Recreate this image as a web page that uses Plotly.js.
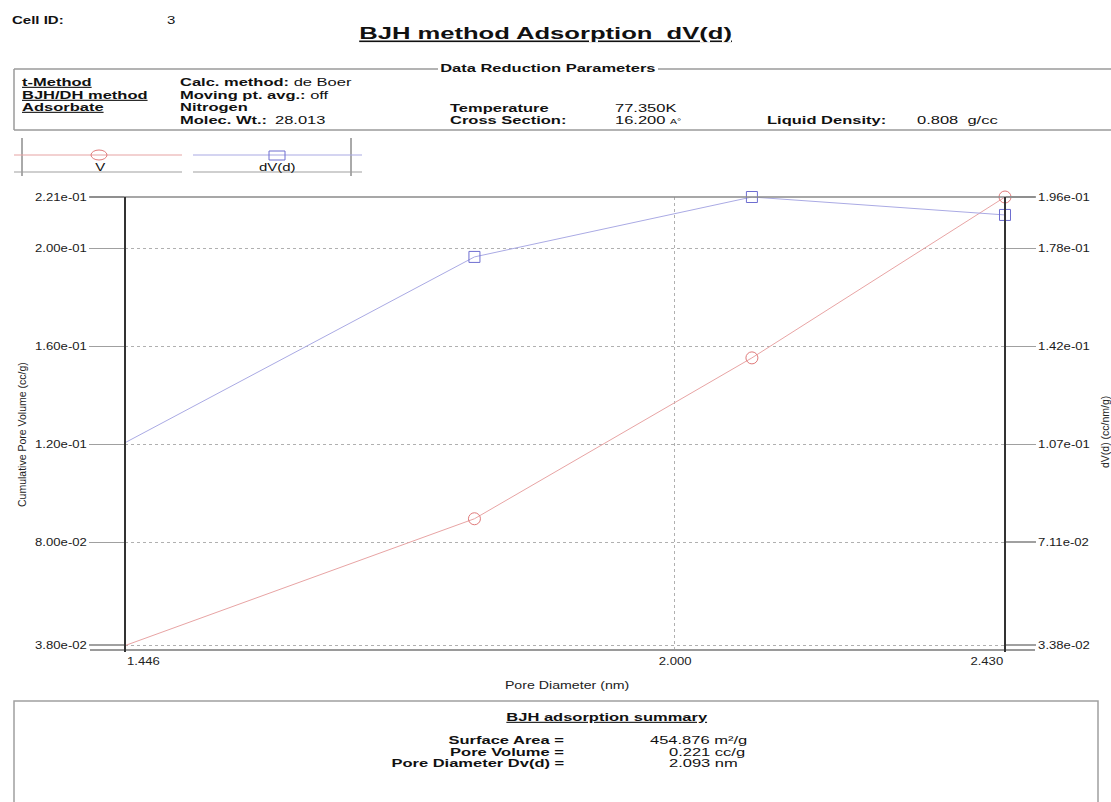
<!DOCTYPE html>
<html>
<head>
<meta charset="utf-8">
<script src="https://cdn.plot.ly/plotly-3.0.1.min.js"></script>
<style>
  html, body { margin: 0; padding: 0; background: #ffffff; }
  #chart { width: 1111px; height: 802px; }
</style>
</head>
<body>
<div id="chart"></div>
<script>
// ---------------- data ----------------
const poreDiameter = [1.446, 1.777, 2.093, 2.430];          // nm
const cumulativeVolume = [0.0378, 0.0896, 0.1553, 0.221];    // V (cc/g), left axis
const dVd = [0.107, 0.1743, 0.196, 0.1895];                  // dV(d) (cc/nm/g), right axis

const xTickVals = [1.446, 2.000, 2.430];
const xTickText = ['1.446', '2.000', '2.430'];
const yLeftTickVals = [0.038, 0.08, 0.12, 0.16, 0.20, 0.221];
const yLeftTickText = ['3.80e-02', '8.00e-02', '1.20e-01', '1.60e-01', '2.00e-01', '2.21e-01'];
const yRightTickVals = [0.0337, 0.0710, 0.1064, 0.1419, 0.1774, 0.196];
const yRightTickText = ['3.38e-02', '7.11e-02', '1.07e-01', '1.42e-01', '1.78e-01', '1.96e-01'];

const summaryLabels = ['Surface Area =', 'Pore Volume =', 'Pore Diameter Dv(d) ='];
const summaryValues = ['454.876 m\u00b2/g', '0.221 cc/g', '2.093 nm'];

// ---------------- geometry helpers ----------------
const W = 1111, H = 802;
const L = 125, R = 106, T = 197, B = 152;
const PW = W - L - R, PH = H - T - B;
const px = x => (x - L) / PW;
const py = y => (H - B - y) / PH;

const FONT = 'Liberation Sans, Arial, sans-serif';
const NARROW = 'Liberation Sans Narrow, Liberation Sans, Arial, sans-serif';
const ann = [];
const stretch = [];   // horizontal stretch factor per annotation (the source image is widened)
function txt(x, y, text, opts, s) {
  opts = opts || {};
  ann.push(Object.assign({
    xref: 'paper', yref: 'paper', x: px(x), y: py(y), text: text,
    showarrow: false, xanchor: 'left', yanchor: 'middle',
    font: {family: FONT, size: 11, color: '#111'}
  }, opts));
  stretch.push(s === undefined ? 1.5 : s);
}

// header
txt(10, 20, '<b>Cell ID:</b>', {font: {family: FONT, size: 10, color: '#111'}});
txt(165, 20, '3', {font: {family: FONT, size: 10, color: '#111'}});
txt(545, 34, '<b><u>BJH method Adsorption\u00a0\u00a0dV(d)</u></b>', {xanchor: 'center', font: {family: FONT, size: 16, color: '#111'}}, 1.6);

// data reduction parameters box
txt(548, 68, '<b>Data Reduction Parameters</b>', {xanchor: 'center', font: {family: FONT, size: 11, color: '#111'}});
txt(20, 82, '<b><u>t-Method</u></b>');
txt(20, 95, '<b><u>BJH/DH method</u></b>');
txt(20, 107, '<b><u>Adsorbate</u></b>');
txt(178, 82, '<b>Calc. method:</b> de Boer');
txt(178, 95, '<b>Moving pt. avg.:</b> off');
txt(178, 107, '<b>Nitrogen</b>');
txt(178, 120, '<b>Molec. Wt.:</b>');
txt(273, 120, '28.013');
txt(448, 108, '<b>Temperature</b>');
txt(448, 120, '<b>Cross Section:</b>');
txt(613, 108, '77.350K');
txt(613, 120, '16.200 <span style="font-size:7px">A\u00b0</span>');
txt(765, 120, '<b>Liquid Density:</b>');
txt(915, 120, '0.808\u00a0\u00a0g/cc');

// legend labels
txt(100, 167, 'V', {xanchor: 'center', font: {family: FONT, size: 10, color: '#111'}});
txt(277, 167, 'dV(d)', {xanchor: 'center', font: {family: FONT, size: 10, color: '#111'}});

// axis titles
txt(22, 435, 'Cumulative Pore Volume (cc/g)', {xanchor: 'center', textangle: -90, font: {family: NARROW, size: 10.5, color: '#222'}}, 1);
txt(1105, 432, 'dV(d) (cc/nm/g)', {xanchor: 'center', textangle: -90, font: {family: NARROW, size: 10.5, color: '#222'}}, 1);
txt(567, 685, 'Pore Diameter (nm)', {xanchor: 'center', font: {family: FONT, size: 10.5, color: '#222'}}, 1.35);

// x tick labels (first left-aligned, middle centred, last right-aligned as in the report)
const xTickAnchor = ['left', 'center', 'right'];
xTickVals.forEach((v, i) => {
  ann.push({xref: 'x', yref: 'paper', x: Math.log10(v), y: py(661), text: xTickText[i],
    showarrow: false, xanchor: xTickAnchor[i], yanchor: 'middle',
    font: {family: FONT, size: 10.5, color: '#222'}});
  stretch.push(1.25);
});

// summary
txt(607, 717, '<b><u>BJH adsorption summary</u></b>', {xanchor: 'center'});
const sy = [740, 752, 763];
const sx = [648, 667, 667];
summaryLabels.forEach((s, i) => txt(566, sy[i], '<b>' + s + '</b>', {xanchor: 'right'}));
summaryValues.forEach((s, i) => txt(sx[i], sy[i], s));

// ---------------- shapes ----------------
const shp = [];
function line(x0, y0, x1, y1, color, width) {
  shp.push({type: 'line', xref: 'paper', yref: 'paper', x0: px(x0), y0: py(y0), x1: px(x1), y1: py(y1),
    line: {color: color, width: width}});
}
function rect(x0, y0, x1, y1, color, width, type) {
  shp.push({type: type || 'rect', xref: 'paper', yref: 'paper', x0: px(x0), y0: py(y0), x1: px(x1), y1: py(y1),
    line: {color: color, width: width}, fillcolor: 'rgba(0,0,0,0)'});
}
// Data reduction box (top edge broken by its caption)
line(14, 69, 438, 69, '#9a9a9a', 1.5);
line(658, 69, 1125, 69, '#9a9a9a', 1.5);
line(14, 69, 14, 130, '#9a9a9a', 1.5);
line(14, 130, 1125, 130, '#9a9a9a', 1.5);
// legend
line(22, 138, 22, 176, '#555', 1);
line(351, 138, 351, 176, '#555', 1);
line(14, 155, 182, 155, '#e6a3a3', 1);
line(193, 155, 362, 155, '#a9a9e3', 1);
line(14, 172, 182, 172, '#a0a0a0', 1.2);
line(193, 172, 362, 172, '#a0a0a0', 1.2);
rect(91, 150, 107, 160, '#e07a7a', 1, 'circle');
rect(269, 151, 285, 160, '#6e6ed0', 1);
// plot frame
line(90, 197, 1035, 197, '#8a8a8a', 1.5);
line(90, 650, 1035, 650, '#9a9a9a', 2);
line(125, 197, 125, 652, '#333', 2);
line(1005, 197, 1005, 652, '#333', 2);
// summary box
rect(14, 701, 1098, 840, '#a0a0a0', 1.5);

// ---------------- traces ----------------
const traces = [
  {
    x: poreDiameter, y: cumulativeVolume, name: 'V', type: 'scatter', mode: 'lines+markers',
    line: {color: '#e8a4a4', width: 1},
    marker: {symbol: 'circle-open', size: 12, color: '#e07a7a', line: {width: 1}},
    cliponaxis: false, yaxis: 'y'
  },
  {
    x: poreDiameter, y: dVd, name: 'dV(d)', type: 'scatter', mode: 'lines+markers',
    line: {color: '#aaaae4', width: 1},
    marker: {symbol: 'square-open', size: 11, color: '#6e6ed0', line: {width: 1}},
    cliponaxis: false, yaxis: 'y2'
  }
];

const layout = {
  width: W, height: H,
  margin: {l: L, r: R, t: T, b: B, pad: 0},
  paper_bgcolor: '#ffffff', plot_bgcolor: '#ffffff',
  showlegend: false,
  font: {family: FONT, size: 11, color: '#222'},
  xaxis: {
    type: 'log',
    range: [Math.log10(1.446), Math.log10(2.430)],
    tickvals: xTickVals, showticklabels: false,
    showgrid: true, gridcolor: '#b0b0b0', griddash: 'dot', gridwidth: 1,
    zeroline: false, showline: false, ticks: ''
  },
  yaxis: {
    range: [0.036, 0.221],
    tickvals: yLeftTickVals, ticktext: yLeftTickText,
    showgrid: true, gridcolor: '#b0b0b0', griddash: 'dot', gridwidth: 1,
    zeroline: false, showline: false,
    ticks: 'outside', ticklen: 35, tickcolor: '#a0a0a0', tickwidth: 1.5,
    tickfont: {family: FONT, size: 10.5, color: '#1a1a1a'}
  },
  yaxis2: {
    overlaying: 'y', side: 'right',
    range: [0.036 * 0.196 / 0.221, 0.196],
    tickvals: yRightTickVals, ticktext: yRightTickText,
    showgrid: false, zeroline: false, showline: false,
    ticks: 'outside', ticklen: 30, tickcolor: '#a0a0a0', tickwidth: 1.5,
    tickfont: {family: FONT, size: 10.5, color: '#1a1a1a'}
  },
  annotations: ann,
  shapes: shp
};

// widen a text element horizontally about an anchor point (local coordinates)
function widen(el, s, where) {
  if (!el || s === 1) return;
  const bb = el.getBBox();
  const a = where === 'left' ? bb.x : where === 'right' ? bb.x + bb.width : bb.x + bb.width / 2;
  const prev = el.getAttribute('transform') || '';
  el.setAttribute('transform', prev + ' translate(' + (a * (1 - s)) + ',0) scale(' + s + ',1)');
}

Plotly.newPlot('chart', traces, layout, {staticPlot: true, displayModeBar: false}).then(gd => {
  gd.querySelectorAll('.annotation').forEach(node => {
    const i = +node.getAttribute('data-index');
    const s = stretch[i];
    if (!s || s === 1) return;
    widen(node.querySelector('text.annotation-text'), s, ann[i].xanchor);
  });
  gd.querySelectorAll('.ytick text').forEach(el => widen(el, 1.25, 'right'));
  gd.querySelectorAll('.y2tick text').forEach(el => widen(el, 1.25, 'left'));
});
</script>
</body>
</html>
